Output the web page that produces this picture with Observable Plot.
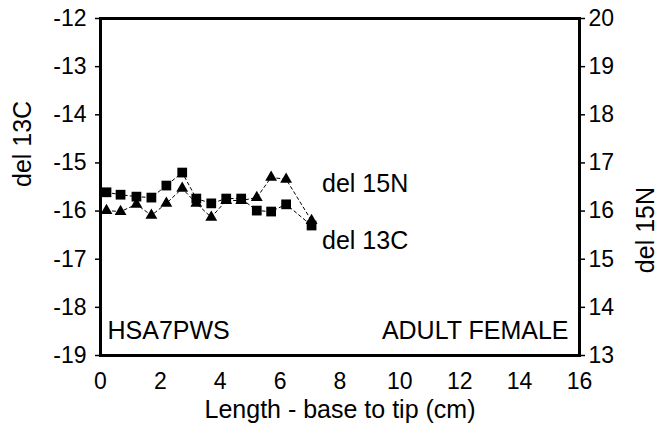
<!DOCTYPE html>
<html>
<head>
<meta charset="utf-8">
<script src="https://cdn.jsdelivr.net/npm/d3@7"></script>
<script src="https://cdn.jsdelivr.net/npm/@observablehq/plot@0.6"></script>
<style>
  html, body { margin: 0; padding: 0; background: #fff; }
  #chart svg { font-family: "Liberation Sans", Arial, sans-serif; }
</style>
</head>
<body>
<div id="chart"></div>
<script>
// Length along the sample (cm)
const lengthCm = [0.2, 0.67, 1.2, 1.7, 2.2, 2.73, 3.2, 3.7, 4.2, 4.7, 5.22, 5.7, 6.2, 7.05];
// del 13C (left axis)
const del13C = [-15.61, -15.66, -15.70, -15.72, -15.47, -15.20, -15.74, -15.84, -15.74, -15.74, -15.99, -16.01, -15.86, -16.30];
// del 15N (right axis)
const del15N = [16.01, 15.99, 16.14, 15.91, 16.16, 16.47, 16.16, 15.87, 16.22, 16.22, 16.28, 16.70, 16.66, 15.80];

const xTicks = [0, 2, 4, 6, 8, 10, 12, 14, 16];
const leftTicks = [-19, -18, -17, -16, -15, -14, -13, -12];
const rightTicks = [13, 14, 15, 16, 17, 18, 19, 20];
const offset15N = 32; // 20 on right axis aligns with -12 on left axis

const c13 = lengthCm.map((x, i) => ({x, y: del13C[i]}));
const n15 = lengthCm.map((x, i) => ({x, y: del15N[i] - offset15N}));

const fsTick = 23;
const fs = 25;
const yMin = -19, yMax = -12, xMin = 0, xMax = 16;
const chart = Plot.plot({
  width: 660,
  height: 439,
  marginLeft: 100,
  marginRight: 81,
  marginTop: 18,
  marginBottom: 84,
  style: {fontSize: fs + "px", fontFamily: "'Liberation Sans', Arial, sans-serif", color: "#000", background: "#fff"},
  x: {type: "linear", domain: [xMin, xMax], axis: null},
  y: {type: "linear", domain: [yMin, yMax], axis: null},
  marks: [
    // tick marks
    Plot.axisY({anchor: "left", ticks: leftTicks, tickSize: 5, tickFormat: () => "", label: null, strokeWidth: 1.5}),
    Plot.axisY({anchor: "right", ticks: rightTicks.map(v => v - offset15N), tickSize: 5, tickFormat: () => "", label: null, strokeWidth: 1.5}),
    // tick labels
    Plot.text(xTicks, {x: d => d, y: () => yMin, dy: 26, text: d => String(d), fontSize: fsTick, fill: "#000"}),
    Plot.text(leftTicks, {x: () => xMin, y: d => d, dx: -14, textAnchor: "end", text: d => "-" + Math.abs(d), fontSize: fsTick, fill: "#000"}),
    Plot.text(rightTicks, {x: () => xMax, y: d => d - offset15N, dx: 9, textAnchor: "start", text: d => String(d), fontSize: fsTick, fill: "#000"}),
    Plot.frame({stroke: "#000", strokeWidth: 3}),
    Plot.line(n15, {x: "x", y: "y", stroke: "#000", strokeWidth: 1, strokeDasharray: "3,3"}),
    Plot.line(c13, {x: "x", y: "y", stroke: "#000", strokeWidth: 1, strokeDasharray: "3,3"}),
    Plot.dot(n15, {x: "x", y: "y", symbol: "triangle", r: 4.4, fill: "#000", stroke: null}),
    Plot.dot(c13, {x: "x", y: "y", symbol: "square", r: 5.5, fill: "#000", stroke: null}),
    Plot.text(["del 15N"], {x: () => 7.4, y: () => -15.43, text: d => d, textAnchor: "start", fontSize: fs, fill: "#000"}),
    Plot.text(["del 13C"], {x: () => 7.4, y: () => -16.63, text: d => d, textAnchor: "start", fontSize: fs, fill: "#000"}),
    Plot.text(["HSA7PWS"], {frameAnchor: "bottom-left", lineAnchor: "middle", dx: 7, dy: -25, text: d => d, textAnchor: "start", fontSize: fs, fill: "#000"}),
    Plot.text(["ADULT FEMALE"], {frameAnchor: "bottom-right", lineAnchor: "middle", dx: -11, dy: -25, text: d => d, textAnchor: "end", fontSize: fs, fill: "#000"}),
    Plot.text(["Length - base to tip (cm)"], {frameAnchor: "bottom", lineAnchor: "middle", dy: 54, text: d => d, fontSize: fs, fill: "#000"}),
    Plot.text(["del 13C"], {frameAnchor: "left", dx: -78, rotate: -90, text: d => d, fontSize: fs, fill: "#000"}),
    Plot.text(["del 15N"], {frameAnchor: "right", dx: 66, rotate: -90, text: d => d, fontSize: fs, fill: "#000"})
  ]
});
document.getElementById("chart").appendChild(chart);
</script>
</body>
</html>
